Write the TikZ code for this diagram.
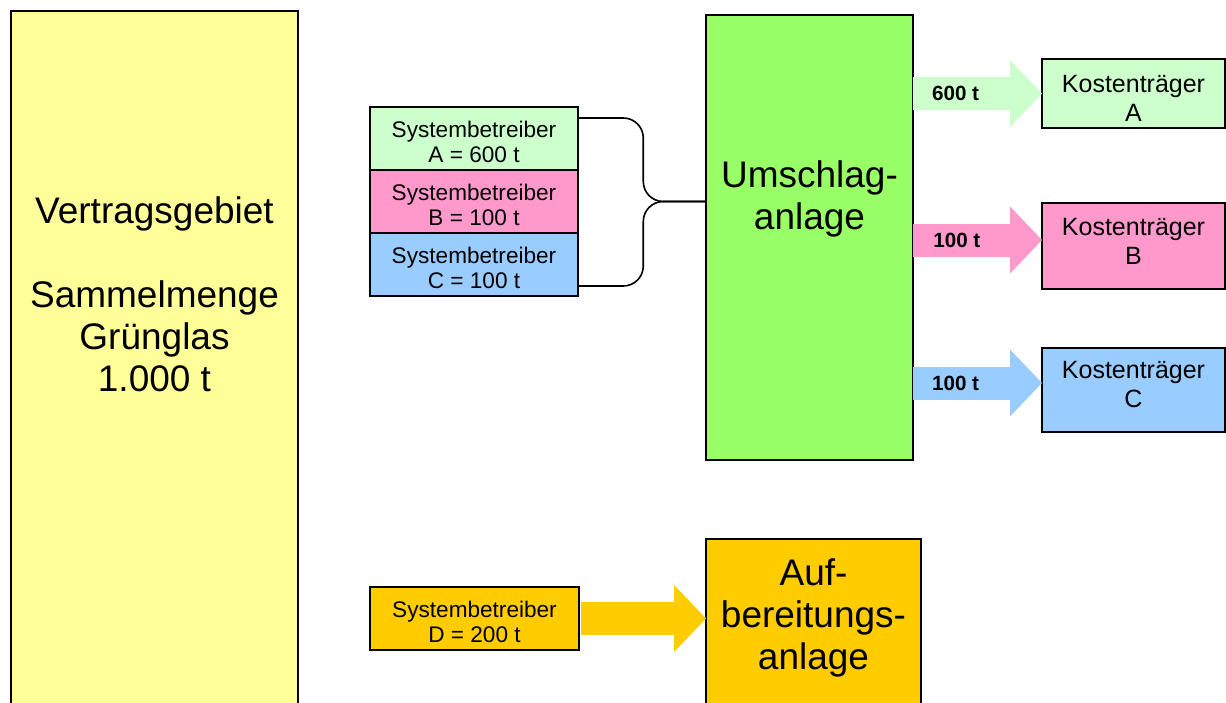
\documentclass[tikz,border=0pt]{standalone}
\usepackage{fontspec}
\setmainfont{Liberation Sans}
\usepackage{xcolor}
\usepackage{tikz}
\usetikzlibrary{calc, positioning, arrows.meta}

\definecolor{gebietgelb}{HTML}{FFFF99}
\definecolor{umschlaggruen}{HTML}{99FF66}
\definecolor{farbeA}{HTML}{CCFFCC}
\definecolor{farbeB}{HTML}{FF99CC}
\definecolor{farbeC}{HTML}{99CCFF}
\definecolor{farbeD}{HTML}{FFCC00}

\tikzset{
    kasten/.style={draw, line width=0.8pt, inner sep=0pt, outer sep=0pt},
    grosstext/.style={align=center, font=\fontsize{18.5}{21}\selectfont},
    sbkasten/.style={kasten, minimum width=104pt, minimum height=31.5pt},
    sbtext/.style={align=center, font=\fontsize{11.3}{12.5}\selectfont},
    ktkasten/.style={kasten, minimum width=91.5pt},
    kttext/.style={align=center, font=\fontsize{12.5}{14.5}\selectfont},
    blockpfeil/.style={line width=16.5pt, -{Triangle[length=16pt, width=33.5pt, line width=0pt]}},
    menge/.style={text=black, font=\bfseries\fontsize{10.3}{12}\selectfont},
}

\begin{document}
\begin{tikzpicture}[x=0.5pt, y=-0.5pt]
        \useasboundingbox (0, 0) rectangle (1226, 702);
        \fill[white] (0, 0) rectangle (1226, 702);

        \node[kasten, fill=gebietgelb, minimum width=143.5pt, minimum height=354.5pt] (gebiet) at (154.5, 365.5) {};
        \node[grosstext] (gebiettext) at (154.5, 294) {Vertragsgebiet\\[21pt]Sammelmenge\\Grünglas\\1.000 t};

        \node[sbkasten, fill=farbeA] (sysA) at (474, 138.5) {};
        \node[sbkasten, fill=farbeB, below=0pt of sysA] (sysB) {};
        \node[sbkasten, fill=farbeC, below=0pt of sysB] (sysC) {};
        \node[sbtext] (sysAtext) at ([yshift=-1.5pt]sysA.center) {Systembetreiber\\A = 600 t};
        \node[sbtext] (sysBtext) at ([yshift=-1.5pt]sysB.center) {Systembetreiber\\B = 100 t};
        \node[sbtext] (sysCtext) at ([yshift=-1.5pt]sysC.center) {Systembetreiber\\C = 100 t};

        \node[kasten, fill=umschlaggruen, minimum width=103.5pt, minimum height=222.5pt] (umschlag) at (809.5, 237.5) {};
        \node[grosstext] (umschlagtext) at (809.5, 199) {Umschlag-\\anlage};

        \node[ktkasten, fill=farbeA, minimum height=34.5pt] (ktA) at (1133.5, 93.5) {};
        \node[ktkasten, fill=farbeB, minimum height=43pt] (ktB) at (1133.5, 246) {};
        \node[ktkasten, fill=farbeC, minimum height=42pt] (ktC) at (1133.5, 390) {};
        \node[kttext] (ktAtext) at ([yshift=-2.25pt]ktA.center) {Kostenträger\\A};
        \node[kttext] (ktBtext) at ([yshift=2.5pt]ktB.center) {Kostenträger\\B};
        \node[kttext] (ktCtext) at ([yshift=2.5pt]ktC.center) {Kostenträger\\C};

        \node[sbkasten, fill=farbeD, minimum width=104.5pt] (sysD) at (474.5, 618.5) {};
        \node[sbtext] (sysDtext) at ([yshift=-1.5pt]sysD.center) {Systembetreiber\\D = 200 t};
        \node[kasten, fill=farbeD, minimum width=107.5pt, minimum height=90.5pt] (aufb) at (813.5, 629.5) {};
        \node[grosstext] (aufbtext) at (813.5, 618) {Auf-\\bereitungs-\\anlage};

        \coordinate (klammer) at ($(sysB.east)!0.51!(umschlag.west |- sysB.east)$);
        \draw[line width=0.8pt, rounded corners=10pt] ([yshift=10.25pt]sysA.east) -| (klammer) -- (umschlag.west |- klammer);
        \draw[line width=0.8pt, rounded corners=10pt] ([yshift=-10.75pt]sysC.east) -| (klammer) -- (umschlag.west |- klammer);

        \coordinate (spitzeB) at ([yshift=3pt]ktB.west);
        \coordinate (spitzeC) at ([yshift=3.5pt]ktC.west);
        \draw[blockpfeil, farbeA] (umschlag.east |- ktA.west) -- (ktA.west) node[menge, pos=0.33] (mengeA) {600 t};
        \draw[blockpfeil, farbeB] (umschlag.east |- spitzeB) -- (spitzeB) node[menge, pos=0.34] (mengeB) {100 t};
        \draw[blockpfeil, farbeC] (umschlag.east |- spitzeC) -- (spitzeC) node[menge, pos=0.33] (mengeC) {100 t};

        \draw[blockpfeil, farbeD, shorten <=1pt] (sysD.east) -- (aufb.west |- sysD.east);
    \end{tikzpicture}
\end{document}
